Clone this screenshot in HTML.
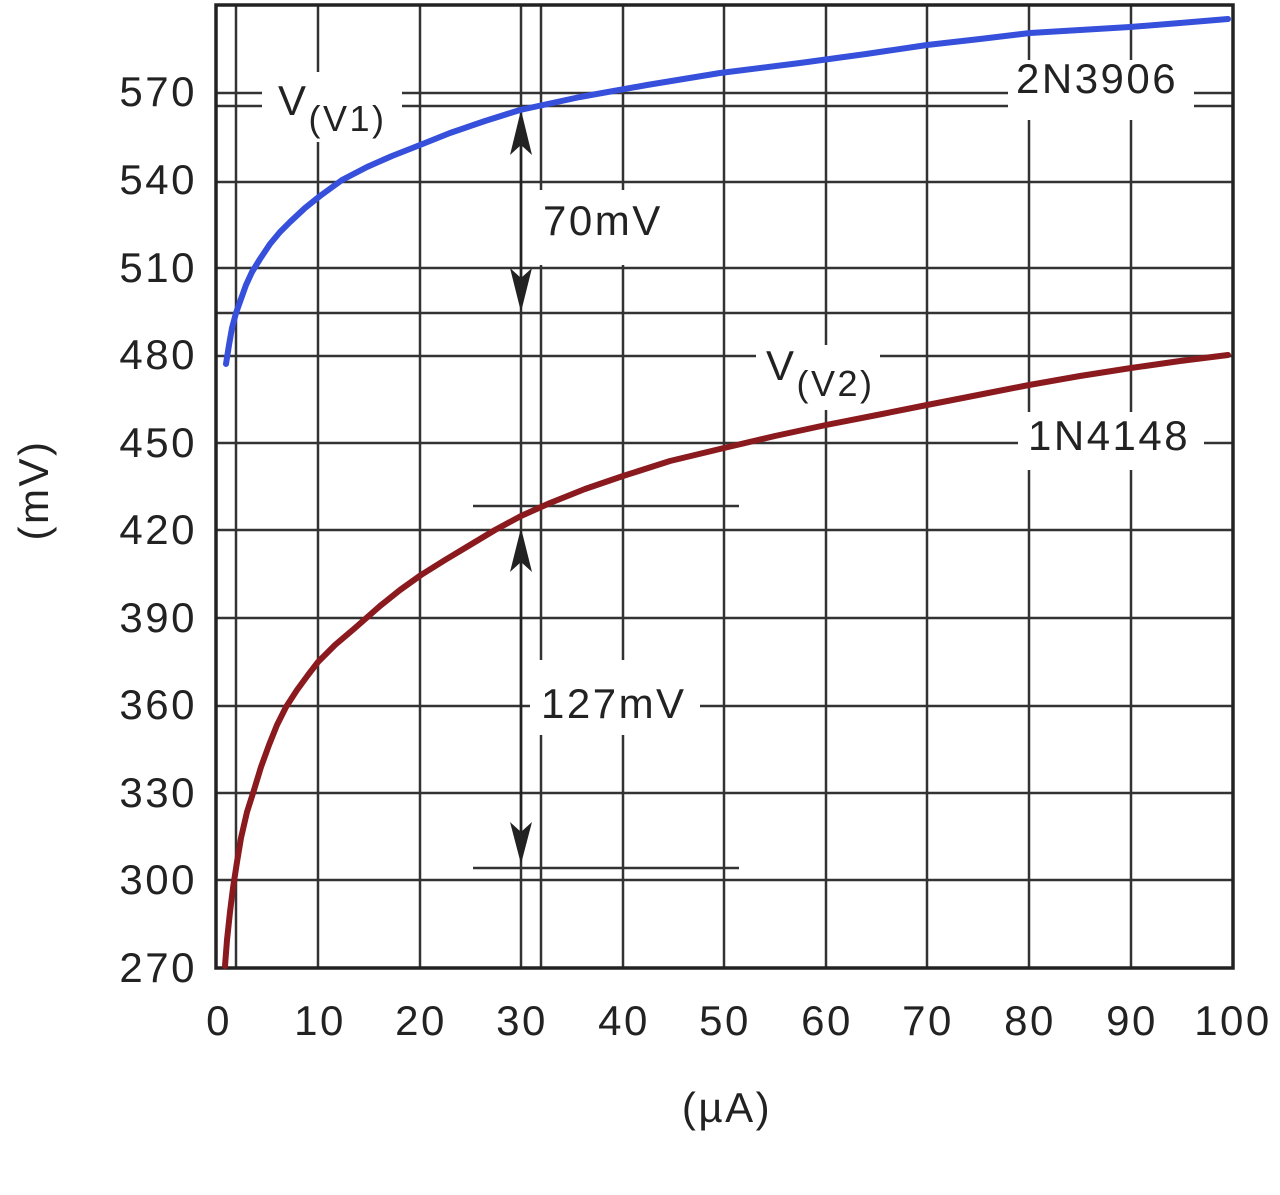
<!DOCTYPE html>
<html><head><style>body{margin:0;background:#fff}</style></head><body>
<svg width="1280" height="1190" xmlns="http://www.w3.org/2000/svg" font-family="Liberation Sans, sans-serif">
<rect width="1280" height="1190" fill="#fff"/>
<g stroke="#333" stroke-width="2.5">
<path d="M236 5V968M318 5V968M420 5V968M521 5V968M541 5V968M623 5V968M724 5V968M826 5V968M927 5V968M1029 5V968M1131 5V968"/>
<path d="M216 93H1233M216 106H1233M216 182H1233M216 268H1233M216 313H1233M216 356H1233M216 443H1233M216 530H1233M216 618H1233M216 706H1233M216 793H1233M216 880H1233"/>
<path d="M473 506H739M473 868H739"/>
</g>
<g fill="#fff">
<rect x="262" y="72" width="140" height="70"/>
<rect x="532" y="190" width="140" height="75"/>
<rect x="1008" y="60" width="186" height="60"/>
<rect x="756" y="345" width="124" height="65"/>
<rect x="1018" y="412" width="186" height="58"/>
<rect x="530" y="660" width="170" height="75"/>
</g>
<rect x="216" y="5" width="1017" height="963" fill="none" stroke="#222" stroke-width="3.5"/>
<g stroke="#222" stroke-width="2.5"><path d="M521 125V300M521 545V850"/></g>
<g fill="#222">
<path d="M521 110L510 155L521 145L532 155Z"/><path d="M521 312L510 268L521 278L532 268Z"/>
<path d="M521 528L510 572L521 562L532 572Z"/><path d="M521 864L510 822L521 832L532 822Z"/>
</g>
<polyline points="226,364 229,345 232,328 236,313 241,299 246,285 252,272 260,259 270,244 280,232 290,222 305,208 320,196 342,180 367,167 392,156 420,145 450,133 485,121 520,110 580,97 647,85 720,73 800,63 866,54 927,45 980,39 1030,33 1080,30 1130,27 1180,23 1228,19" fill="none" stroke="#3650dc" stroke-width="6" stroke-linejoin="round" stroke-linecap="round"/>
<polyline points="225,966 227,940 230,912 233,888 237,862 241,838 247,812 254,790 261,767 269,745 277,725 286,707 297,690 308,675 318,662 335,645 355,628 380,606 400,590 421,575 445,560 470,545 495,530 521,516 550,503 585,489 623,476 670,461 724,448 775,436 826,425 877,415 927,405 978,395 1029,385 1080,376 1131,368 1180,361 1228,355" fill="none" stroke="#8b1a1f" stroke-width="6" stroke-linejoin="round" stroke-linecap="round"/>
<g fill="#222" font-size="42" letter-spacing="2.5">
<g text-anchor="end">
<text x="197" y="106">570</text><text x="197" y="194">540</text><text x="197" y="282">510</text><text x="197" y="369">480</text><text x="197" y="457">450</text><text x="197" y="544">420</text><text x="197" y="632">390</text><text x="197" y="719">360</text><text x="197" y="807">330</text><text x="197" y="894">300</text><text x="197" y="982">270</text>
</g>
<g text-anchor="middle">
<text x="219" y="1035">0</text><text x="320" y="1035">10</text><text x="421" y="1035">20</text><text x="522" y="1035">30</text><text x="624" y="1035">40</text><text x="725" y="1035">50</text><text x="827" y="1035">60</text><text x="928" y="1035">70</text><text x="1030" y="1035">80</text><text x="1132" y="1035">90</text><text x="1233" y="1035">100</text>
<text x="727" y="1122">(µA)</text>
</g>
<text transform="translate(48,490) rotate(-90)" text-anchor="middle">(mV)</text>
<text x="278" y="115">V<tspan font-size="36" dy="16">(V1)</tspan></text>
<text x="543" y="235">70mV</text>
<text x="1016" y="93">2N3906</text>
<text x="766" y="380">V<tspan font-size="36" dy="16">(V2)</tspan></text>
<text x="1028" y="450">1N4148</text>
<text x="541" y="718">127mV</text>
</g>
</svg>
</body></html>
